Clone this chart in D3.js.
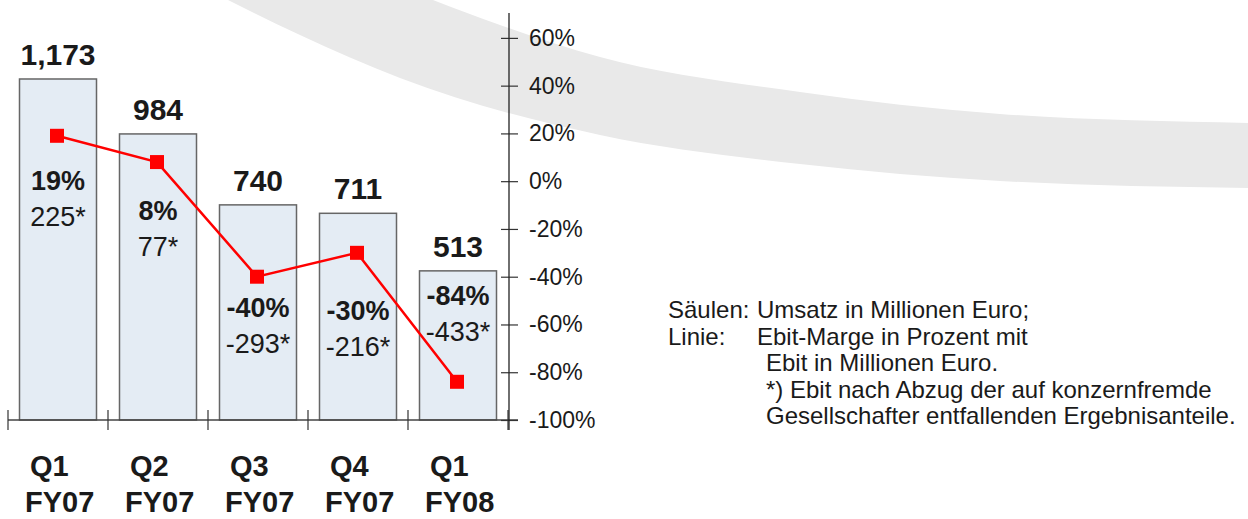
<!DOCTYPE html>
<html>
<head>
<meta charset="utf-8">
<script src="https://cdn.jsdelivr.net/npm/d3@7"></script>
<style>
    body { margin: 0; background: #fff; }
    svg { display: block; font-family: Arial, "Liberation Sans", sans-serif; }
</style>
</head>
<body>
<div id="chart"></div>
<script>
// chart values
const quarters = ["Q1", "Q2", "Q3", "Q4", "Q1"]
const years = ["FY07", "FY07", "FY07", "FY07", "FY08"]
const revenue = [1173, 984, 740, 711, 513]
const revenueLabels = ["1,173", "984", "740", "711", "513"]
const margin = [19, 8, -40, -30, -84]
const ebit = [225, 77, -293, -216, -433]
const pctTicks = [-100, -80, -60, -40, -20, 0, 20, 40, 60]
const legendLines = [
    ["Säulen:", "Umsatz in Millionen Euro;"],
    ["Linie:", "Ebit-Marge in Prozent mit"],
    ["", "Ebit in Millionen Euro."],
    ["", "*) Ebit nach Abzug der auf konzernfremde"],
    ["", "Gesellschafter entfallenden Ergebnisanteile."]
]

// where the two labels inside a bar sit, relative to the line marker (px)
const labelDy = [54, 58, 40, 67, -77]

const width = 1248
const height = 519
const base = 420

const svg = d3.select("#chart").append("svg")
    .attr("width", width)
    .attr("height", height)

// grey swoosh in the background
var upper = [[433, 0], [500, 25], [600, 57], [800, 92], [1000, 114], [1248, 123]]
var lower = [[228, 0], [300, 35], [400, 78], [600, 135], [800, 164], [1000, 181], [1248, 188]]
var edge = d3.line().curve(d3.curveMonotoneX)
var lowerPath = edge(lower.slice().reverse())
svg.append("path")
    .attr("d", edge(upper) + "L" + lowerPath.slice(1) + "Z")
    .attr("fill", "#e9e9e9")

const idx = d3.range(quarters.length)

const x = d3.scaleBand()
    .domain(idx)
    .range([8, 508])
    .paddingInner(0.23)
    .paddingOuter(0.115)

const y = d3.scaleLinear().domain([0, 1400]).range([base, 13])
const y2 = d3.scaleLinear().domain([-100, 70]).range([base, 14])

const step = x.step()
const cx = i => x(i) + x.bandwidth() / 2

// bars
svg.selectAll("rect.bar")
    .data(idx).enter().append("rect")
    .attr("class", "bar")
    .attr("x", i => x(i))
    .attr("y", i => y(revenue[i]))
    .attr("width", x.bandwidth())
    .attr("height", i => base - y(revenue[i]))
    .attr("fill", "#e4ecf4")
    .attr("stroke", "#666")
    .attr("stroke-width", 1.5)

// revenue labels
svg.selectAll("text.rev")
    .data(idx).enter().append("text")
    .attr("class", "rev")
    .attr("x", cx)
    .attr("y", i => y(revenue[i]) - 14)
    .attr("text-anchor", "middle")
    .attr("font-size", 30)
    .attr("font-weight", "bold")
    .attr("fill", "#1a1a1a")
    .text(i => revenueLabels[i])

// x axis line + boundary ticks
svg.append("line")
    .attr("x1", 8).attr("x2", 518)
    .attr("y1", base).attr("y2", base)
    .attr("stroke", "#444").attr("stroke-width", 1.3)

var bounds = idx.map(i => x(i) - step * x.paddingInner() / 2)
bounds.push(bounds[bounds.length - 1] + step)
svg.selectAll("line.xtick")
    .data(bounds).enter().append("line")
    .attr("class", "xtick")
    .attr("x1", d => d).attr("x2", d => d)
    .attr("y1", base - 10).attr("y2", base + 10)
    .attr("stroke", "#333").attr("stroke-width", 1.2)

// category labels
var cat = svg.selectAll("g.cat")
    .data(idx).enter().append("g")
    .attr("class", "cat")
    .attr("font-weight", "bold")
    .attr("font-size", 29)
    .attr("fill", "#1a1a1a")
cat.append("text")
    .attr("x", i => bounds[i] + 22)
    .attr("y", 476)
    .text(i => quarters[i])
cat.append("text")
    .attr("x", i => bounds[i] + 17)
    .attr("y", 512)
    .text(i => years[i])

// right percentage axis
const axisX = bounds[bounds.length - 1] + 1
var yAxis = svg.append("g")
    .attr("transform", `translate(${axisX},0)`)
    .call(d3.axisRight(y2).tickValues(pctTicks).tickSize(9).tickFormat(d => d + "%"))
yAxis.select(".domain").remove()
yAxis.selectAll(".tick line").attr("x1", -8).attr("stroke", "#333").attr("stroke-width", 1.2)
yAxis.selectAll(".tick text")
    .attr("x", 20)
    .attr("font-size", 23)
    .attr("font-family", "Arial, 'Liberation Sans', sans-serif")
    .attr("fill", "#1a1a1a")
svg.append("line")
    .attr("x1", axisX).attr("x2", axisX)
    .attr("y1", 13).attr("y2", base + 10)
    .attr("stroke", "#222").attr("stroke-width", 1.3)

// margin line
var line = d3.line()
    .x(i => cx(i) - 1)
    .y(i => y2(margin[i]))
svg.append("path")
    .attr("d", line(idx))
    .attr("fill", "none")
    .attr("stroke", "#ff0000")
    .attr("stroke-width", 2.5)

const mk = 14
svg.selectAll("rect.marker")
    .data(idx).enter().append("rect")
    .attr("class", "marker")
    .attr("x", i => cx(i) - 1 - mk / 2)
    .attr("y", i => y2(margin[i]) - mk / 2)
    .attr("width", mk).attr("height", mk)
    .attr("fill", "#ff0000")

// labels inside bars
svg.selectAll("text.pct")
    .data(idx).enter().append("text")
    .attr("class", "pct")
    .attr("x", cx)
    .attr("y", i => y2(margin[i]) + labelDy[i])
    .attr("text-anchor", "middle")
    .attr("font-size", 27)
    .attr("font-weight", "bold")
    .attr("fill", "#1a1a1a")
    .text(i => margin[i] + "%")

svg.selectAll("text.ebit")
    .data(idx).enter().append("text")
    .attr("class", "ebit")
    .attr("x", cx)
    .attr("y", i => y2(margin[i]) + labelDy[i] + 36)
    .attr("text-anchor", "middle")
    .attr("font-size", 27)
    .attr("fill", "#1a1a1a")
    .text(i => ebit[i] + "*")

// legend text
var legend = svg.append("g")
    .attr("font-size", 24)
    .attr("fill", "#1a1a1a")
legendLines.forEach(function (l, i) {
    var ly = 318 + i * 26.5
    if (l[0]) legend.append("text").attr("x", 668).attr("y", ly).text(l[0])
    legend.append("text")
        .attr("x", i < 2 ? 757 : 766)
        .attr("y", ly)
        .text(l[1])
})
</script>
</body>
</html>
